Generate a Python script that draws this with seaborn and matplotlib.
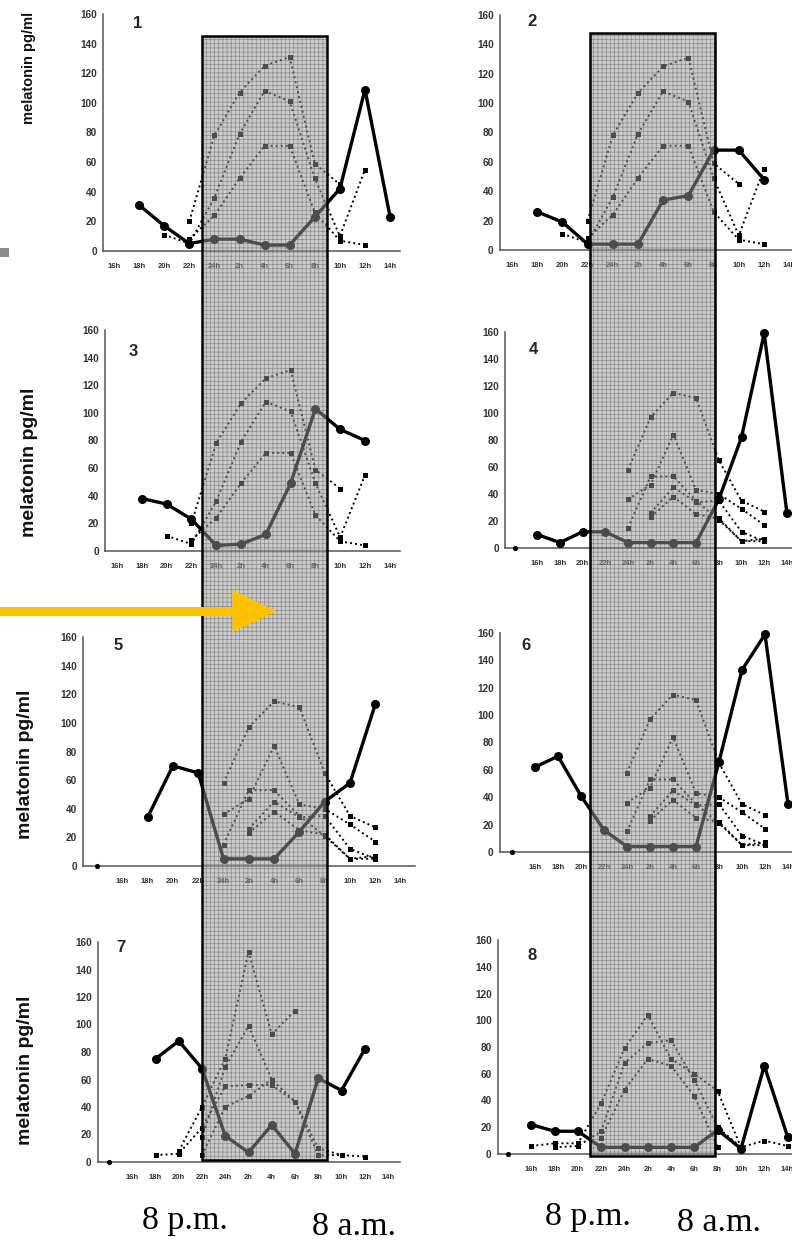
import numpy as np
import pandas as pd
import matplotlib
matplotlib.use("Agg")
import matplotlib.pyplot as plt
from matplotlib.patches import Rectangle, Polygon
from matplotlib.transforms import Affine2D
import seaborn as sns

nan = np.nan

# ---------------- data ----------------
HOURS = ["16h", "18h", "20h", "22h", "24h", "2h", "4h", "6h", "8h", "10h", "12h", "14h"]
HOURS_B = [""] + HOURS  # panels 4-8 have an unlabeled leading slot

# patient curves (solid)
p1_patient = [nan, 31, 17, 5, 8, 8, 4, 4, 23, 42, 109, 23]
p2_patient = [nan, 26, 19, 4, 4, 4, 34, 37, 68, 68, 48, nan]
p3_patient = [nan, 38, 34, 23, 4, 5, 12, 49, 103, 88, 80, nan]
p4_patient = [nan, 10, 4, 12, 12, 4, 4, 4, 4, 36, 82, 159, 26]
p5_patient = [nan, nan, 34, 70, 65, 5, 5, 5, 24, 45, 58, 113, nan]
p6_patient = [nan, 62, 70, 41, 16, 4, 4, 4, 4, 66, 133, 159, 35]
p7_patient = [nan, nan, 75, 88, 68, 19, 7, 27, 6, 61, 52, 82, nan]
p8_patient = [nan, 22, 17, 17, 5, 5, 5, 5, 5, 18, 4, 66, 13]

# isolated zero point at the unlabeled leading slot (panels 4-8)
origin_value = [0]

# reference (dotted) curves, panels 1-3
norm13_a = [nan, nan, nan, 20, 78, 107, 125, 131, 59, 45, nan, nan]
norm13_b = [nan, nan, 11, 5, 36, 79, 108, 101, 49, 10, 55, nan]
norm13_c = [nan, nan, nan, 8, 24, 49, 71, 71, 26, 7, 4, nan]

# reference (dotted) curves, panels 4-6
norm46_a = [nan, nan, nan, nan, nan, 58, 97, 115, 111, 65, 35, 27, nan]
norm46_b = [nan, nan, nan, nan, nan, 36, 47, 84, 43, 40, 29, 17, nan]
norm46_c = [nan, nan, nan, nan, nan, 15, 53, 53, 35, 21, 5, 7, nan]
norm46_d = [nan, nan, nan, nan, nan, nan, 26, 45, 34, 35, 12, 5, nan]
norm46_e = [nan, nan, nan, nan, nan, nan, 23, 38, 25, 22, 5, 5, nan]

# reference (dotted) curves, panel 7
norm7_a = [nan, nan, nan, 8, 40, 75, 153, 93, 110, nan, nan, nan, nan]
norm7_b = [nan, nan, nan, nan, 18, 69, 99, 60, 44, 10, 5, nan, nan]
norm7_c = [nan, nan, 5, 6, 25, 55, 56, 56, 44, 5, 5, 4, nan]
norm7_d = [nan, nan, nan, nan, 5, 40, 48, 60, nan, nan, nan, nan, nan]

# reference (dotted) curves, panel 8
norm8_a = [nan, 6, 8, 8, 38, 79, 104, 71, 60, 47, 5, 10, 6]
norm8_b = [nan, nan, 5, 6, 17, 68, 83, 85, 55, 20, 5, nan, nan]
norm8_c = [nan, nan, nan, nan, 12, 48, 71, 66, 43, 5, nan, nan, nan]

Y_TICKS = [0, 20, 40, 60, 80, 100, 120, 140, 160]
PANEL_LABELS = ["1", "2", "3", "4", "5", "6", "7", "8"]
Y_LABEL = "melatonin pg/ml"
TIME_LABELS = ["8 p.m.", "8 a.m."]

# ---------------- style / layout ----------------
sns.set_style("white")
plt.rcParams['font.family'] = ['Liberation Sans', 'DejaVu Sans']
plt.rcParams['hatch.linewidth'] = 0.5

W, H = 792, 1242
fig = plt.figure(figsize=(W / 100, H / 100), dpi=100)
fig.patch.set_facecolor('white')
PX = Affine2D().scale(1 / W, -1 / H).translate(0, 1) + fig.transFigure

# (left px, right px, y of 0, y of 160, x px of first slot, slot spacing)
panels = [
    dict(cats=HOURS, pat=p1_patient, norms=[norm13_a, norm13_b, norm13_c],
         box=(103, 400, 251, 14, 114, 25.1), num=(138, 24), origin=False),
    dict(cats=HOURS, pat=p2_patient, norms=[norm13_a, norm13_b, norm13_c],
         box=(500, 800, 250, 15, 512, 25.2), num=(532, 22), origin=False),
    dict(cats=HOURS, pat=p3_patient, norms=[norm13_a, norm13_b, norm13_c],
         box=(105, 400, 551, 330, 117, 24.8), num=(133, 352), origin=False),
    dict(cats=HOURS_B, pat=p4_patient, norms=[norm46_a, norm46_b, norm46_c, norm46_d, norm46_e],
         box=(505, 800, 548, 332, 514.5, 22.7), num=(533, 350), origin=True),
    dict(cats=HOURS_B, pat=p5_patient, norms=[norm46_a, norm46_b, norm46_c, norm46_d, norm46_e],
         box=(83, 415, 866, 637, 97, 25.3), num=(118, 645), origin=True),
    dict(cats=HOURS_B, pat=p6_patient, norms=[norm46_a, norm46_b, norm46_c, norm46_d, norm46_e],
         box=(500, 800, 852, 633, 512, 23.0), num=(526, 645), origin=True),
    dict(cats=HOURS_B, pat=p7_patient, norms=[norm7_a, norm7_b, norm7_c, norm7_d],
         box=(98, 400, 1162, 942, 109, 23.25), num=(121, 948), origin=True),
    dict(cats=HOURS_B, pat=p8_patient, norms=[norm8_a, norm8_b, norm8_c],
         box=(498, 800, 1154, 940, 508, 23.3), num=(532, 955), origin=True),
]


def runs_frame(values):
    v = np.asarray(values, dtype=float)
    df = pd.DataFrame({"x": np.arange(len(v)), "y": v})
    df["run"] = np.isnan(v).cumsum()
    return df.dropna()


for i, p in enumerate(panels):
    left, right, y0, y160, x0, sp = p["box"]
    ax = fig.add_axes([left / W, 1 - y0 / H, (right - left) / W, (y0 - y160) / H])
    ax.set_facecolor('none')
    for nv in p["norms"]:
        sns.lineplot(data=runs_frame(nv), x="x", y="y", units="run", estimator=None,
                     color="black", linestyle=(0, (1, 1.6)), linewidth=1.4,
                     marker="s", markersize=3.6, markeredgewidth=0,
                     ax=ax, clip_on=False, legend=False, zorder=2)
    sns.lineplot(data=runs_frame(p["pat"]), x="x", y="y", units="run", estimator=None,
                 color="black", linewidth=2.4, marker="o", markersize=6.5,
                 markeredgewidth=0, ax=ax, clip_on=False, legend=False, zorder=3)
    if p["origin"]:
        sns.scatterplot(x=[0], y=origin_value, color="black", s=14, linewidth=0,
                        ax=ax, clip_on=False, legend=False, zorder=3)
    ax.set_xlim((left - x0) / sp, (right - x0) / sp)
    ax.set_ylim(0, 160)
    ax.set_xticks(np.arange(len(p["cats"])))
    ax.set_xticklabels(p["cats"])
    ax.set_yticks(Y_TICKS)
    ax.set_yticklabels([str(t) for t in Y_TICKS])
    ax.set_xlabel("")
    ax.set_ylabel("")
    for s in ("top", "right"):
        ax.spines[s].set_visible(False)
    for s in ("left", "bottom"):
        ax.spines[s].set_color("#555555")
        ax.spines[s].set_linewidth(1.1)
    ax.tick_params(axis="x", length=0, pad=8.5, labelsize=5.5, labelcolor="#333333")
    ax.tick_params(axis="y", length=2.5, width=0.8, color="#555555", pad=2,
                   labelsize=7.2, labelcolor="#333333")
    for lab in ax.get_xticklabels() + ax.get_yticklabels():
        lab.set_fontweight("bold")
    fig.text(p["num"][0], p["num"][1], PANEL_LABELS[i], transform=PX, ha="center",
             va="center", fontsize=12, fontweight="bold")

# y labels (left column only)
for (xc, yc, fs) in [(29, 68, 10.5), (30, 462, 14), (26, 764, 14), (26, 1070, 14)]:
    fig.text(xc, yc, Y_LABEL, transform=PX, rotation=90, ha="center", va="center",
             fontsize=fs, fontweight="bold", color="#111111")

# night-time shaded overlays
for (rx, ry, rw, rh) in [(202, 36, 125, 1124), (590, 33, 125, 1123)]:
    fill = Rectangle((rx, ry), rw, rh, transform=PX, facecolor=(0.6, 0.6, 0.6),
                     edgecolor=(0.3, 0.3, 0.3), linewidth=0, hatch="++++",
                     alpha=0.5, zorder=5)
    fig.add_artist(fill)
    border = Rectangle((rx, ry), rw, rh, transform=PX, fill=False,
                       edgecolor="black", linewidth=1.8, zorder=6)
    fig.add_artist(border)

# yellow arrow
yellow = "#FFC200"
fig.add_artist(Rectangle((0, 607), 234, 8.5, transform=PX, facecolor=yellow,
                         edgecolor="none", zorder=7))
fig.add_artist(Polygon([(232, 590), (276, 611), (232, 632)], closed=True, transform=PX,
                       facecolor=yellow, edgecolor="none", zorder=7))

# small gray mark on the left
fig.add_artist(Rectangle((0, 248), 9, 9, transform=PX, facecolor="#8c8c8c",
                         edgecolor="none", zorder=7))

# bottom time labels
for (tx, ty, t) in [(142, 1229, TIME_LABELS[0]), (312, 1235, TIME_LABELS[1]),
                    (545, 1225, TIME_LABELS[0]), (677, 1231, TIME_LABELS[1])]:
    fig.text(tx, ty, t, transform=PX, ha="left", va="baseline",
             fontsize=24.5, family=["Liberation Serif", "DejaVu Serif"], color="black")

fig.savefig("out.png", dpi=100, facecolor="white")
